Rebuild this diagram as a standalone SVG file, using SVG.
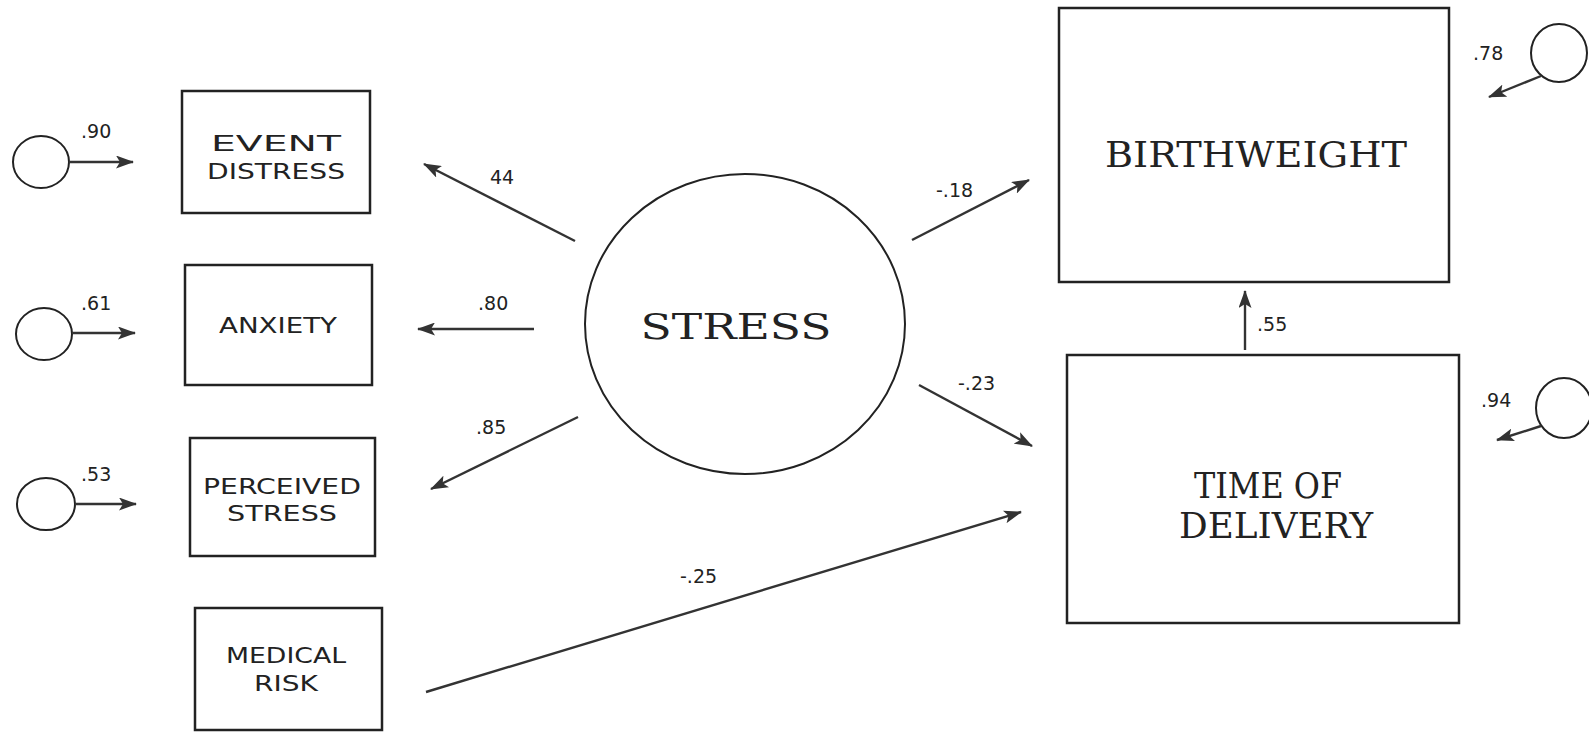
<svg xmlns="http://www.w3.org/2000/svg" width="1589" height="732" viewBox="0 0 1589 732">
<style>
.box{fill:none;stroke:#222;stroke-width:2.5}
.err{fill:none;stroke:#222;stroke-width:2}
.lat{fill:none;stroke:#222;stroke-width:2}
.c line{stroke:#333;stroke-width:2.4;marker-end:url(#ah)}
.sl{font-family:"DejaVu Sans","Liberation Sans",sans-serif;font-size:21px;fill:#222;text-anchor:middle}
.bl{font-family:"DejaVu Serif","Liberation Serif",serif;font-size:35px;fill:#222;text-anchor:middle}
.n{font-family:"DejaVu Sans","Liberation Sans",sans-serif;font-size:19px;fill:#222}
</style>
<defs>
<marker id="ah" markerWidth="18" markerHeight="13" refX="17" refY="6.5" orient="auto" markerUnits="userSpaceOnUse">
<path d="M0,0 L18,6.5 L0,13 L4,6.5 Z" fill="#333"/>
</marker>
</defs>
<rect width="1589" height="732" fill="#fff"/>

<g id="e-event"><ellipse class="err" cx="41" cy="162" rx="28" ry="26"/><text class="n" x="81" y="138">.90</text></g>
<g id="e-anxiety"><ellipse class="err" cx="44" cy="334" rx="28" ry="26"/><text class="n" x="81" y="310">.61</text></g>
<g id="e-perceived"><ellipse class="err" cx="46" cy="504" rx="29" ry="26"/><text class="n" x="81" y="481">.53</text></g>
<g id="e-birth"><ellipse class="err" cx="1559" cy="53" rx="28" ry="29"/><text class="n" x="1473" y="60">.78</text></g>
<g id="e-time"><ellipse class="err" cx="1564" cy="408" rx="28" ry="30"/><text class="n" x="1481" y="407">.94</text></g>

<g id="event-distress"><rect class="box" x="182" y="91" width="188" height="122"/>
<text class="sl" x="276" y="151" textLength="130" lengthAdjust="spacingAndGlyphs">EVENT</text>
<text class="sl" x="276" y="179" textLength="138" lengthAdjust="spacingAndGlyphs">DISTRESS</text></g>
<g id="anxiety"><rect class="box" x="185" y="265" width="187" height="120"/>
<text class="sl" x="278" y="333" textLength="118" lengthAdjust="spacingAndGlyphs">ANXIETY</text></g>
<g id="perceived-stress"><rect class="box" x="190" y="438" width="185" height="118"/>
<text class="sl" x="282" y="494" textLength="158" lengthAdjust="spacingAndGlyphs">PERCEIVED</text>
<text class="sl" x="282" y="521" textLength="110" lengthAdjust="spacingAndGlyphs">STRESS</text></g>
<g id="medical-risk"><rect class="box" x="195" y="608" width="187" height="122"/>
<text class="sl" x="286" y="663" textLength="120" lengthAdjust="spacingAndGlyphs">MEDICAL</text>
<text class="sl" x="286" y="691" textLength="64" lengthAdjust="spacingAndGlyphs">RISK</text></g>

<g id="stress"><ellipse class="lat" cx="745" cy="324" rx="160" ry="150"/>
<text class="bl" x="736" y="339" textLength="191" lengthAdjust="spacingAndGlyphs">STRESS</text></g>

<g id="birthweight"><rect class="box" x="1059" y="8" width="390" height="274"/>
<text class="bl" x="1256" y="167" textLength="302" lengthAdjust="spacingAndGlyphs">BIRTHWEIGHT</text></g>
<g id="time-of-delivery"><rect class="box" x="1067" y="355" width="392" height="268"/>
<text class="bl" x="1268" y="498" textLength="148" lengthAdjust="spacingAndGlyphs">TIME OF</text>
<text class="bl" x="1276" y="538" textLength="194" lengthAdjust="spacingAndGlyphs">DELIVERY</text></g>

<g id="connectors" class="c">
<line x1="69" y1="162" x2="133" y2="162"/>
<line x1="72" y1="333" x2="135" y2="333"/>
<line x1="75" y1="504" x2="136" y2="504"/>
<line x1="1541" y1="76" x2="1489" y2="97"/>
<line x1="1541" y1="426" x2="1497" y2="440"/>
<line x1="575" y1="241" x2="424" y2="164"/>
<line x1="534" y1="329" x2="418" y2="329"/>
<line x1="578" y1="417" x2="431" y2="489"/>
<line x1="912" y1="240" x2="1029" y2="180"/>
<line x1="919" y1="385" x2="1032" y2="446"/>
<line x1="426" y1="692" x2="1021" y2="512"/>
<line x1="1245" y1="350" x2="1245" y2="291"/>
</g>
<g id="labels">
<text class="n" x="490" y="184">44</text>
<text class="n" x="478" y="310">.80</text>
<text class="n" x="476" y="434">.85</text>
<text class="n" x="936" y="197">-.18</text>
<text class="n" x="958" y="390">-.23</text>
<text class="n" x="680" y="583">-.25</text>
<text class="n" x="1257" y="331">.55</text>
</g>
</svg>
